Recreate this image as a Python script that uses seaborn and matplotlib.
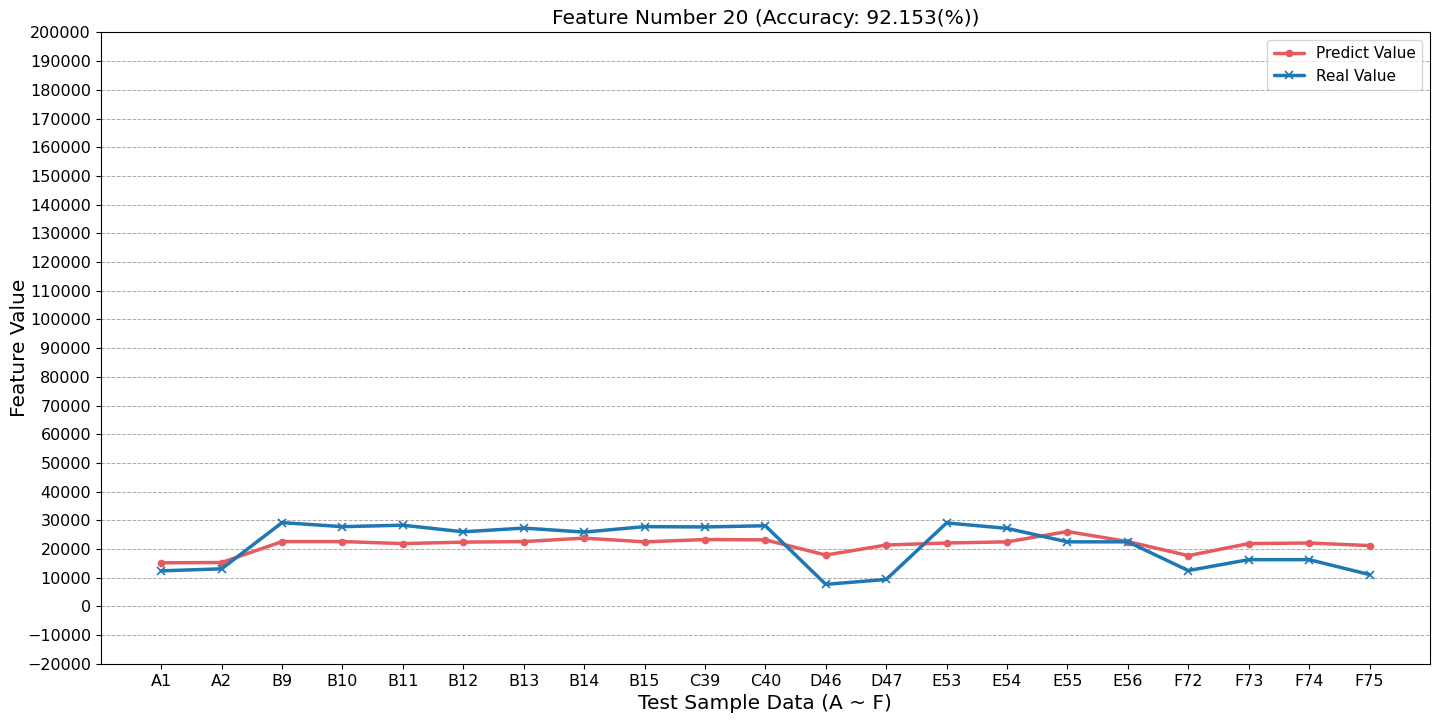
import pandas as pd
import matplotlib
matplotlib.use('Agg')
import matplotlib.pyplot as plt
import seaborn as sns

# test samples
samples = ['A1', 'A2', 'B9', 'B10', 'B11', 'B12', 'B13', 'B14', 'B15', 'C39', 'C40',
           'D46', 'D47', 'E53', 'E54', 'E55', 'E56', 'F72', 'F73', 'F74', 'F75']
predict_value = [15200, 15300, 22600, 22600, 21900, 22400, 22600, 23800, 22500, 23300, 23200,
                 17900, 21400, 22100, 22500, 26100, 22600, 17700, 21900, 22100, 21200]
real_value = [12400, 13100, 29200, 27800, 28300, 26000, 27300, 25900, 27800, 27700, 28100,
              7700, 9400, 29100, 27200, 22500, 22500, 12500, 16300, 16300, 11100]

df = pd.DataFrame({'sample': samples, 'predict': predict_value, 'real': real_value})

sns.set_style('white', {'text.color': 'black', 'axes.labelcolor': 'black',
                        'xtick.color': 'black', 'ytick.color': 'black'})
fig, ax = plt.subplots(figsize=(14.4, 7.2), dpi=100)
sns.lineplot(data=df, x='sample', y='predict', color='#e55b60', marker='o',
             linewidth=2.5, markersize=5.5, markeredgewidth=0, sort=False,
             label='Predict Value', ax=ax)
sns.lineplot(data=df, x='sample', y='real', color='#1f77b4', marker='x',
             linewidth=2.5, markersize=5.5, markeredgewidth=1.2,
             markeredgecolor='#1f77b4', sort=False,
             label='Real Value', ax=ax)

ax.set_ylim(-20000, 200000)
ax.set_yticks(range(-20000, 200001, 10000))
ax.set_xlim(-1, len(samples))
ax.grid(axis='y', linestyle='--', color='#aaaaaa', linewidth=0.7)
ax.tick_params(axis='both', labelsize=11.5, length=3.5, left=True, bottom=True,
               colors='black')
for s in ax.spines.values():
    s.set_color('black')
    s.set_linewidth(0.8)

ax.set_title('Feature Number 20 (Accuracy: 92.153(%))', fontsize=14.5, color='black')
ax.set_xlabel('Test Sample Data (A ~ F)', fontsize=14.5, color='black')
ax.set_ylabel('Feature Value', fontsize=14.5, color='black')
ax.yaxis.set_label_coords(-0.054, 0.5)
leg = ax.legend(fontsize=11, loc='upper right')
for t in leg.get_texts():
    t.set_color('black')

plt.subplots_adjust(left=0.07, right=0.993, top=0.955, bottom=0.078)
plt.savefig('out.png')
